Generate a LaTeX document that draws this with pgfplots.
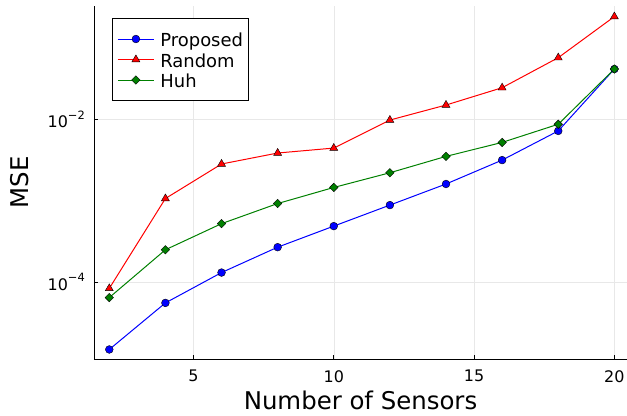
\documentclass[border=0pt]{standalone}
\usepackage{fontspec}
\setmainfont{DejaVu Sans}
\usepackage{pgfplots}
\pgfplotsset{compat=1.18}
\definecolor{jgreen}{rgb}{0,0.5,0}
\newcommand{\tenexp}[1]{10\raisebox{8.5bp}{\fontsize{11.5}{12}\selectfont −#1}}
\begin{document}
\begin{tikzpicture}
\begin{axis}[
  name=ax,
  scale only axis,
  width=533bp, height=353bp,
  xmin=1.455, xmax=20.45,
  ymode=log,
  ymin=1.122e-5, ymax=0.2483,
  axis lines=left,
  axis line style={-, black, line width=0.8bp},
  xtick={5,10,15,20},
  ytick={1e-4,1e-2},
  yticklabels={\tenexp{4},\tenexp{2}},
  yminorticks=false,
  grid=major,
  major grid style={black!9, line width=0.5bp},
  tick align=inside,
  major tick length=4bp,
  tick style={black, line width=0.6bp},
  /pgf/number format/assume math mode=true,
  xticklabel style={font=\fontsize{16}{18}\selectfont, inner sep=0pt, anchor=north, yshift=-11bp},
  yticklabel style={font=\fontsize{16}{18}\selectfont, inner sep=0pt, anchor=east, xshift=-9bp},
  xlabel={Number of Sensors},
  ylabel={MSE},
  label style={font=\fontsize{24.5}{28}\selectfont},
  xlabel style={at={(axis description cs:0.5,0)}, anchor=base, yshift=-50bp},
  ylabel style={at={(axis description cs:-0.1238,0.5)}, anchor=base},
  legend style={at={(axis description cs:0.0338,0.965)}, anchor=north west,
    draw=black, line width=0.8bp, fill=white, inner xsep=5bp, inner ysep=10bp,
    font=\fontsize{18}{20.5}\selectfont,
    nodes={inner sep=0pt, text height=18bp, text depth=2.5bp},
    column sep=6bp, row sep=0pt},
  legend cell align=left,
  legend image code/.code={\draw[mark repeat=2,mark phase=2,#1] plot coordinates {(0bp,0bp)(18bp,0bp)(36bp,0bp)};},
]
\addplot[blue, line width=1bp, mark=*, mark size=3.9bp, mark options={fill=blue, draw=black, line width=0.4bp}] coordinates {
(2,1.47e-5) (4,5.5e-5) (6,1.3e-4) (8,2.67e-4) (10,4.85e-4) (12,8.8e-4) (14,1.6e-3) (16,3.15e-3) (18,7.2e-3) (20,0.0416)};
\addlegendentry{Proposed}
\addplot[red, line width=1bp, mark=triangle*, mark size=4.6bp, mark options={fill=red, draw=black, line width=0.4bp}] coordinates {
(2,8.3e-5) (4,1.06e-3) (6,2.82e-3) (8,3.85e-3) (10,4.43e-3) (12,9.8e-3) (14,0.015) (16,0.0245) (18,0.0574) (20,0.184)};
\addlegendentry{Random}
\addplot[jgreen, line width=1bp, mark=square*, mark size=3bp, mark options={rotate=45, fill=jgreen, draw=black, line width=0.4bp}] coordinates {
(2,6.4e-5) (4,2.48e-4) (6,5.2e-4) (8,9.2e-4) (10,1.45e-3) (12,2.2e-3) (14,3.5e-3) (16,5.2e-3) (18,8.7e-3) (20,0.0416)};
\addlegendentry{Huh}
\end{axis}
\pgfresetboundingbox
\path[use as bounding box] ([xshift=-94bp,yshift=-57bp]ax.south west) rectangle ([yshift=6bp]ax.north east);
\end{tikzpicture}
\end{document}
